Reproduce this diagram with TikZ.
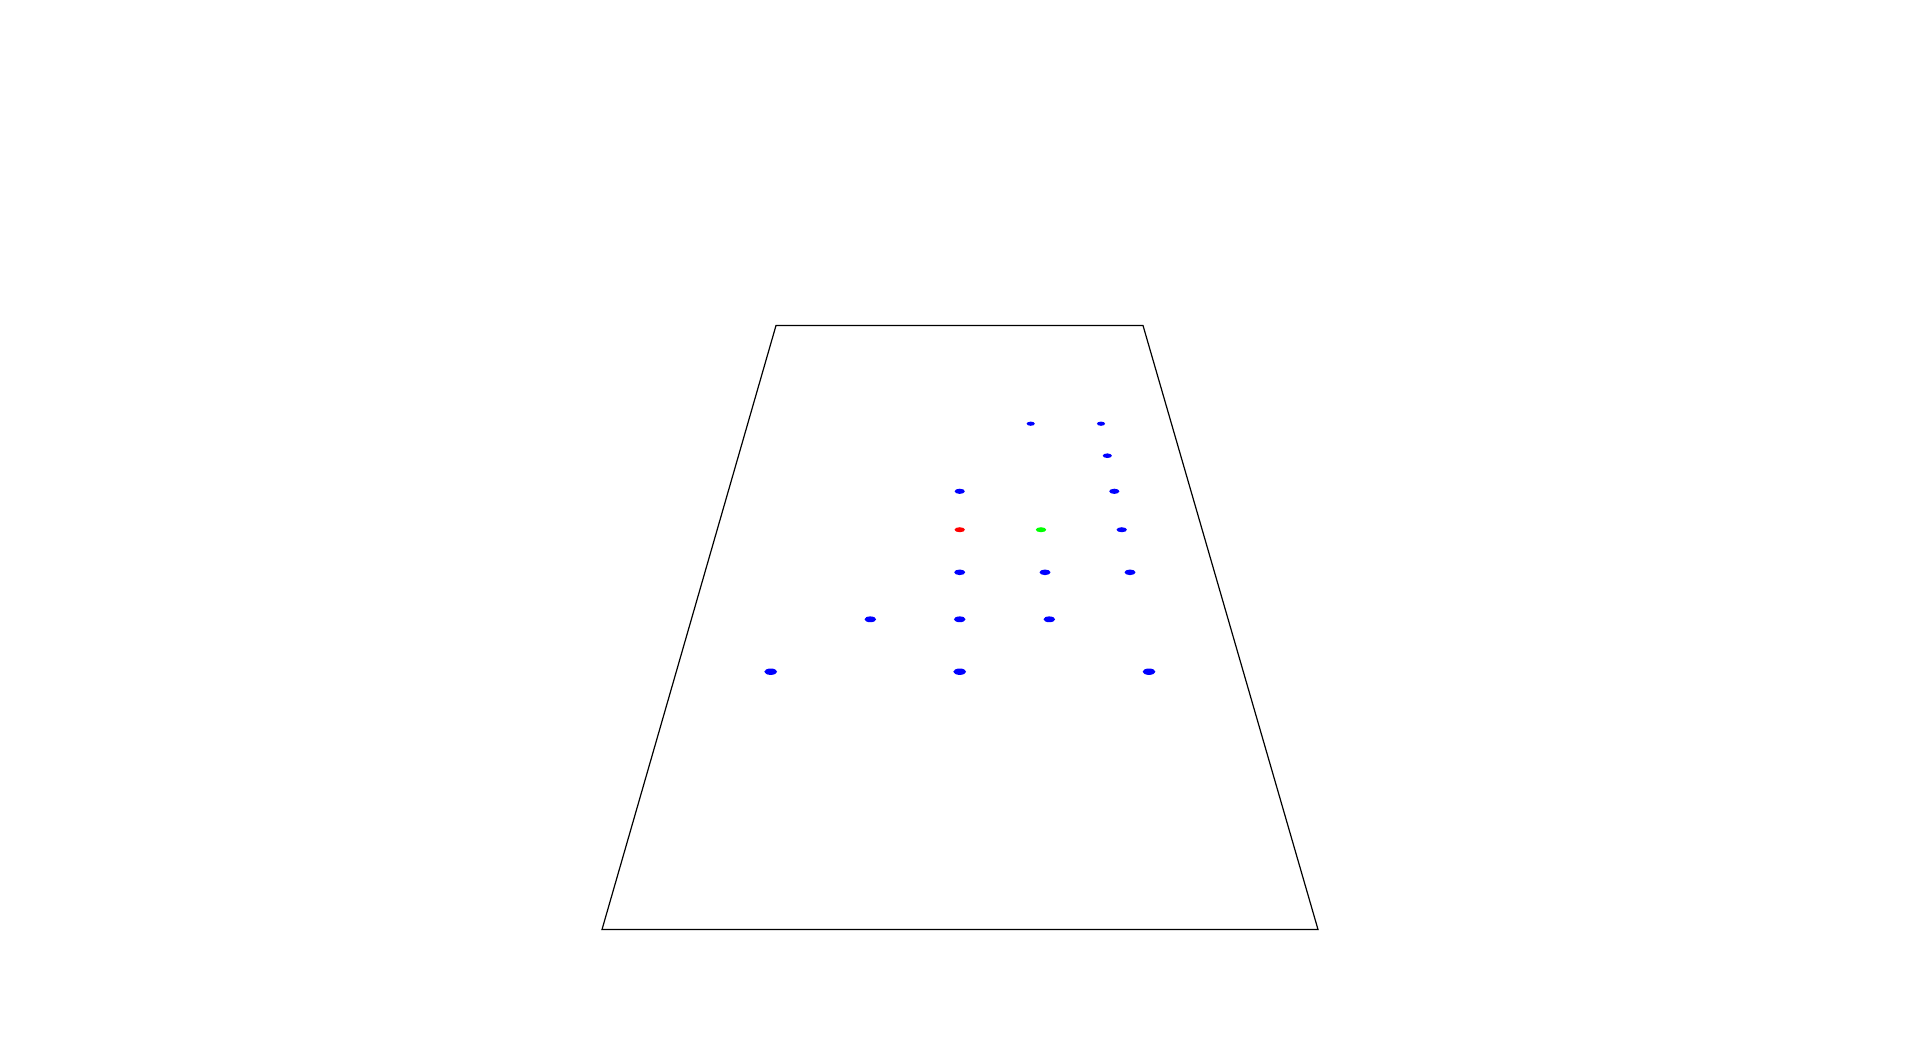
\documentclass[tikz,border=0pt]{standalone}
\begin{document}
\begin{tikzpicture}[x=0.5pt,y=-0.5pt,
  plane/.style={draw=black,line width=0.6pt,line join=miter},
  bdot/.style={fill={rgb,255:red,0;green,0;blue,255}},
  rdot/.style={fill={rgb,255:red,255;green,0;blue,0}},
  gdot/.style={fill={rgb,255:red,0;green,255;blue,0}}]
\useasboundingbox (0,0) rectangle (1920,1060);
% plane
\coordinate (TL) at (776,325.5);
\coordinate (TR) at (1143,325.5);
\coordinate (BR) at (1318,929.5);
\coordinate (BL) at (602,929.5);
\draw[plane] (TL) -- (TR) -- (BR) -- (BL) -- cycle;
% row y=424
\fill[bdot] (1030.7,423.7) ellipse [x radius=4.1, y radius=2.1];
\fill[bdot] (1101,423.7) ellipse [x radius=4.1, y radius=2.1];
% row y=456
\fill[bdot] (1107.3,455.7) ellipse [x radius=4.6, y radius=2.3];
% row y=491
\fill[bdot] (959.7,491.3) ellipse [x radius=5.1, y radius=2.6];
\fill[bdot] (1114.3,491.3) ellipse [x radius=5.1, y radius=2.6];
% row y=530
\fill[rdot] (959.7,529.7) ellipse [x radius=5.2, y radius=2.5];
\fill[gdot] (1041,529.7) ellipse [x radius=5.2, y radius=2.5];
\fill[bdot] (1121.7,529.7) ellipse [x radius=5.2, y radius=2.5];
% row y=572
\fill[bdot] (959.7,572.3) ellipse [x radius=5.5, y radius=2.8];
\fill[bdot] (1045,572.3) ellipse [x radius=5.5, y radius=2.8];
\fill[bdot] (1130,572.3) ellipse [x radius=5.5, y radius=2.8];
% row y=619
\fill[bdot] (870.3,619.3) ellipse [x radius=5.8, y radius=2.9];
\fill[bdot] (959.7,619.3) ellipse [x radius=5.8, y radius=2.9];
\fill[bdot] (1049.3,619.3) ellipse [x radius=5.8, y radius=2.9];
% row y=672
\fill[bdot] (770.7,671.7) ellipse [x radius=6.4, y radius=3.2];
\fill[bdot] (959.7,671.7) ellipse [x radius=6.4, y radius=3.2];
\fill[bdot] (1149,671.7) ellipse [x radius=6.4, y radius=3.2];
\end{tikzpicture}
\end{document}
